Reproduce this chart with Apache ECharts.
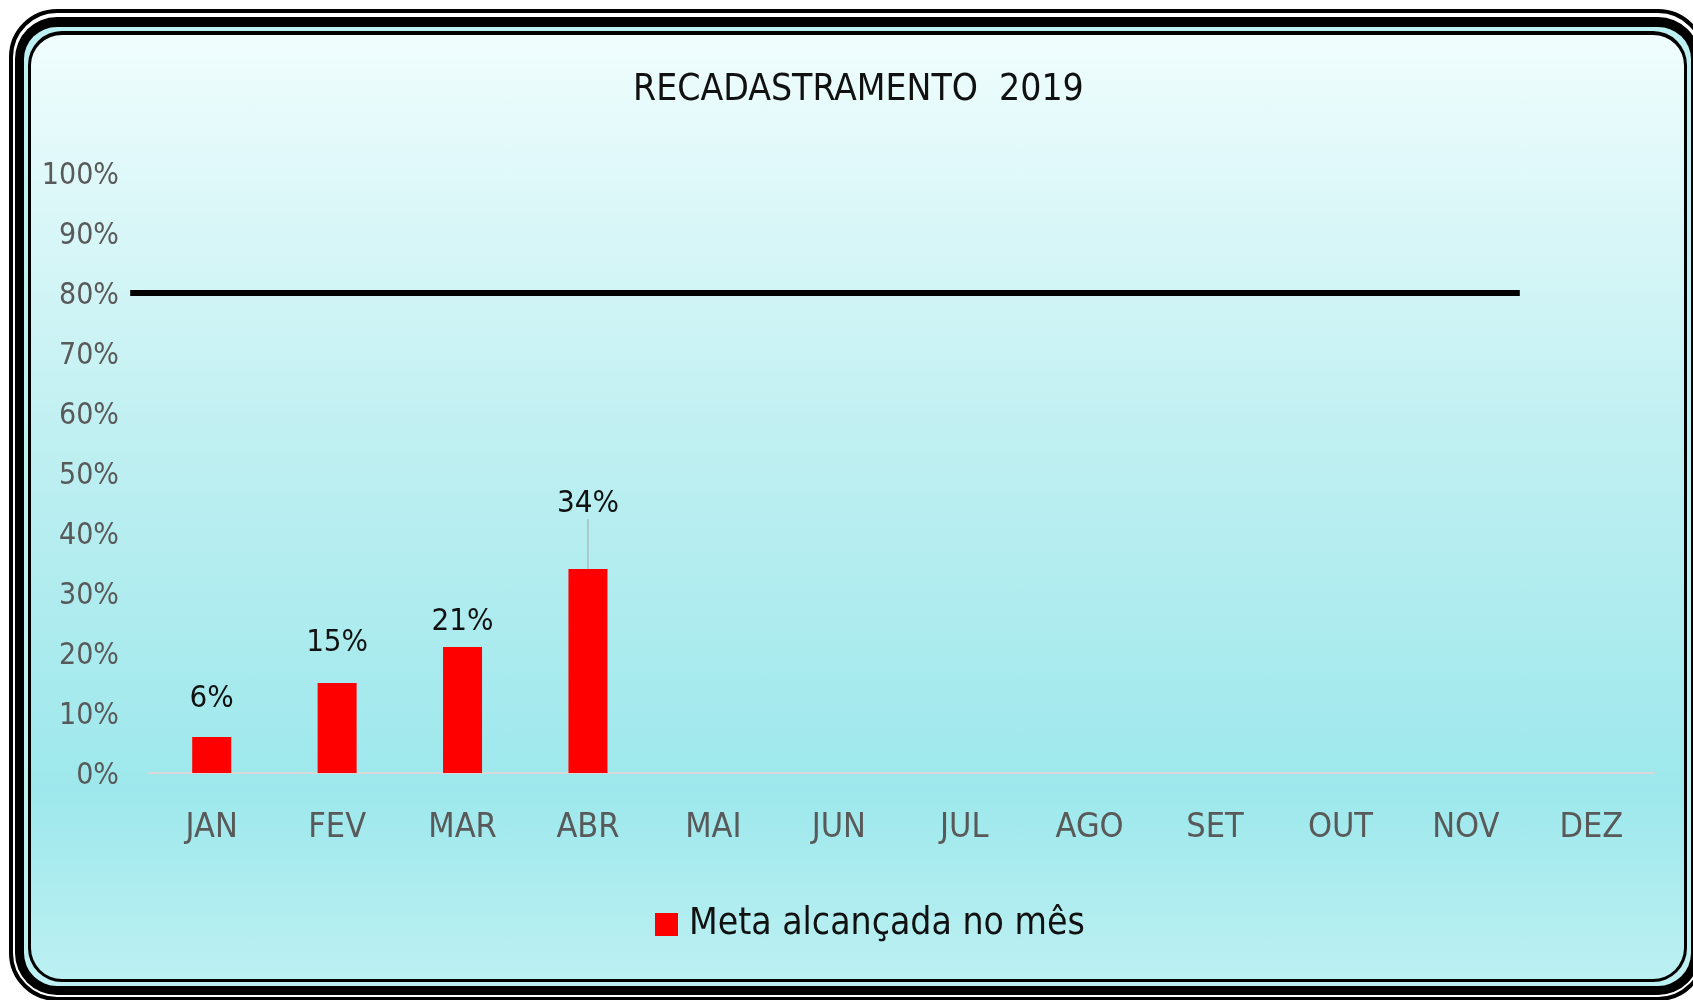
<!DOCTYPE html>
<html>
<head>
<meta charset="utf-8">
<title>Recadastramento 2019</title>
<script src="https://cdn.jsdelivr.net/npm/echarts@6/dist/echarts.min.js"></script>
<style>
  html, body { margin: 0; padding: 0; background: #fff; }
  body { width: 1693px; height: 1000px; overflow: hidden; position: relative; }
  /* moldura dupla arredondada */
  .moldura-ext {
    position: absolute; left: 9px; top: 9px; width: 1697px; height: 992px;
    box-sizing: border-box; border: 4px solid #000; border-radius: 48px;
    padding: 2px; padding-top: 4px; background: #fff;
  }
  .moldura-meio {
    width: 100%; height: 100%; box-sizing: border-box;
    border: 9px solid #000; border-top-width: 10px; border-radius: 42px;
    padding: 4px; background: #bdf0f2;
  }
  .moldura-int {
    width: 100%; height: 100%; box-sizing: border-box;
    border: 3px solid #000; border-top-width: 4px; border-radius: 34px;
    background: linear-gradient(to bottom, #f0fdfd 0%, #bdeff1 45%, #9de8ec 80%, #bcf0f2 100%);
  }
  #chart { position: absolute; left: 0; top: 0; width: 1693px; height: 1000px; }
</style>
</head>
<body>
<div class="moldura-ext"><div class="moldura-meio"><div class="moldura-int"></div></div></div>
<div id="chart"></div>
<script>
// dados
const meses = ['JAN', 'FEV', 'MAR', 'ABR', 'MAI', 'JUN', 'JUL', 'AGO', 'SET', 'OUT', 'NOV', 'DEZ']
const metaAlcancada = [6, 15, 21, 34] // % por mês
const metaLinhaX = [-0.15, 10.93] // em unidades de categoria (JAN = 0..1)
const metaLinhaY = [80, 80]

// distancia dos rótulos (estilo, copiado do Excel)
const distRotulo = [23, 25, 10, 4]
const FONTE = "'Liberation Sans Narrow', 'DejaVu Sans Condensed', sans-serif"

const chart = echarts.init(document.getElementById('chart'))

const barData = metaAlcancada.map((v, i) => ({
  value: v,
  label: { distance: distRotulo[i] },
  labelLine: { show: i === 3 }
}))

// grid 1 = barras; grid 2 = mesma escala, um pouco mais larga à esquerda, só pra linha da meta
const gLeft = 149, gRight = 39, gTop = 173, gBottom = 227
const banda = (1693 - gLeft - gRight) / meses.length
const extraEsq = 0.2

chart.setOption({
  backgroundColor: 'transparent',
  animation: false,
  textStyle: { fontFamily: FONTE },
  title: {
    text: 'RECADASTRAMENTO  2019',
    left: 633,
    top: 72,
    padding: 0,
    textStyle: { fontFamily: FONTE, fontSize: 37, fontWeight: 'normal', color: '#111' }
  },
  legend: {
    data: ['Meta alcançada no mês'],
    left: 655,
    top: 906,
    padding: 0,
    icon: 'rect',
    itemWidth: 23,
    itemHeight: 23,
    textStyle: { fontFamily: FONTE, fontSize: 37, color: '#111', padding: [0, 0, 0, 6] }
  },
  grid: [
    { left: gLeft, right: gRight, top: gTop, bottom: gBottom, containLabel: false },
    { left: gLeft - extraEsq * banda, right: gRight, top: gTop, bottom: gBottom, containLabel: false }
  ],
  xAxis: [
    {
      type: 'category',
      gridIndex: 0,
      data: meses,
      axisLine: { lineStyle: { color: '#d9d9d9', width: 2 } },
      axisTick: { show: false },
      axisLabel: { color: '#595959', fontFamily: FONTE, fontSize: 34, margin: 38 }
    },
    { type: 'value', gridIndex: 1, min: -extraEsq, max: meses.length, show: false }
  ],
  yAxis: [
    {
      type: 'value',
      gridIndex: 0,
      min: 0,
      max: 100,
      interval: 10,
      axisLine: { show: false },
      axisTick: { show: false },
      splitLine: { show: false },
      axisLabel: {
        formatter: '{p|{value}%}',
        margin: 30,
        rich: {
          // empurra o texto um pouco pra baixo, como no Excel
          p: { color: '#595959', fontFamily: FONTE, fontSize: 30, padding: [7, 0, 0, 0] }
        }
      }
    },
    { type: 'value', gridIndex: 1, min: 0, max: 100, show: false }
  ],
  series: [
    {
      name: 'Meta alcançada no mês',
      type: 'bar',
      barWidth: 39,
      itemStyle: { color: '#ff0000' },
      label: {
        show: true,
        position: 'top',
        formatter: '{c}%',
        fontFamily: FONTE,
        fontSize: 31,
        color: '#111'
      },
      labelLine: { show: false, lineStyle: { color: '#a6a6a6', width: 1 } },
      // o rótulo de ABR foi deslocado para cima, com linha guia
      labelLayout: (p) => (p.dataIndex === 3 ? { dy: -46 } : {}),
      data: barData
    },
    {
      name: 'Meta 80%',
      type: 'line',
      xAxisIndex: 1,
      yAxisIndex: 1,
      silent: true,
      symbol: 'none',
      lineStyle: { color: '#000', width: 6 },
      data: metaLinhaX.map((x, i) => [x, metaLinhaY[i]])
    }
  ]
})

window.addEventListener('resize', () => chart.resize())
</script>
</body>
</html>
